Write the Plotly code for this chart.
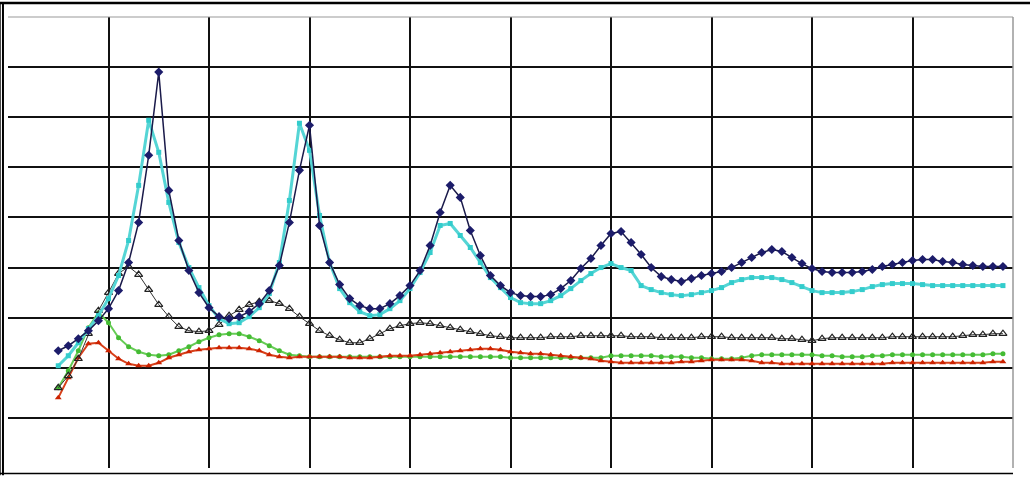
import plotly.graph_objects as go

# sample positions along the horizontal axis (grid columns 0..10)
x = [round(0.5 + 0.1 * i, 1) for i in range(95)]

navy = [2.34, 2.44, 2.58, 2.74, 2.94,
        3.18, 3.54, 4.1, 4.9, 6.24, 7.9, 5.54, 4.54, 3.94, 3.5,
        3.2, 3.02, 2.98, 3.02, 3.12, 3.28, 3.54, 4.04, 4.9, 5.94,
        6.84, 4.84, 4.1, 3.66, 3.38, 3.24, 3.18, 3.18, 3.28, 3.44,
        3.64, 3.94, 4.44, 5.1, 5.64, 5.4, 4.74, 4.24, 3.84, 3.64,
        3.5, 3.44, 3.42, 3.42, 3.46, 3.58, 3.74, 3.98, 4.18, 4.44,
        4.68, 4.72, 4.5, 4.26, 4.0, 3.82, 3.76, 3.72, 3.78, 3.84,
        3.88, 3.92, 4.0, 4.1, 4.2, 4.3, 4.36, 4.32, 4.2, 4.08,
        3.98, 3.92, 3.9, 3.9, 3.9, 3.92, 3.96, 4.02, 4.06, 4.1,
        4.14, 4.16, 4.16, 4.12, 4.1, 4.06, 4.04, 4.02, 4.02, 4.02]

cyan = [2.04, 2.24, 2.5, 2.78, 3.04,
        3.38, 3.84, 4.54, 5.64, 6.94, 6.3, 5.3, 4.5, 4.0, 3.6,
        3.24, 2.98, 2.88, 2.9, 3.02, 3.2, 3.48, 4.1, 5.34, 6.88,
        6.34, 5.04, 4.1, 3.58, 3.3, 3.12, 3.04, 3.06, 3.18, 3.34,
        3.58, 3.9, 4.3, 4.84, 4.88, 4.64, 4.4, 4.1, 3.8, 3.6,
        3.4, 3.3, 3.28, 3.28, 3.34, 3.44, 3.58, 3.74, 3.88, 4.0,
        4.08, 4.0, 3.94, 3.64, 3.56, 3.5, 3.46, 3.44, 3.46, 3.5,
        3.54, 3.6, 3.7, 3.76, 3.8, 3.8, 3.8, 3.76, 3.7, 3.62,
        3.54, 3.5, 3.5, 3.5, 3.52, 3.56, 3.62, 3.66, 3.68, 3.68,
        3.68, 3.66, 3.64, 3.64, 3.64, 3.64, 3.64, 3.64, 3.64, 3.64]

triangles = [1.6, 1.84, 2.18, 2.68, 3.14,
             3.5, 3.88, 4.02, 3.86, 3.56, 3.26, 3.02, 2.82, 2.74, 2.72,
             2.74, 2.86, 3.04, 3.16, 3.26, 3.32, 3.34, 3.28, 3.18, 3.02,
             2.88, 2.74, 2.64, 2.56, 2.5, 2.5, 2.58, 2.68, 2.78, 2.84,
             2.88, 2.9, 2.88, 2.84, 2.8, 2.76, 2.72, 2.68, 2.64, 2.62,
             2.6, 2.6, 2.6, 2.6, 2.62, 2.62, 2.62, 2.64, 2.64, 2.64,
             2.64, 2.64, 2.62, 2.62, 2.62, 2.6, 2.6, 2.6, 2.6, 2.62,
             2.62, 2.62, 2.6, 2.6, 2.6, 2.6, 2.6, 2.58, 2.58, 2.56,
             2.54, 2.58, 2.6, 2.6, 2.6, 2.6, 2.6, 2.6, 2.62, 2.62,
             2.62, 2.62, 2.62, 2.62, 2.62, 2.64, 2.66, 2.66, 2.68, 2.68]

green = [1.6, 1.94, 2.34, 2.8, 3.1,
         2.9, 2.6, 2.42, 2.32, 2.26, 2.24, 2.26, 2.34, 2.42, 2.52,
         2.6, 2.66, 2.68, 2.68, 2.62, 2.54, 2.44, 2.34, 2.26, 2.24,
         2.22, 2.22, 2.22, 2.22, 2.22, 2.22, 2.22, 2.22, 2.22, 2.22,
         2.22, 2.22, 2.22, 2.22, 2.22, 2.22, 2.22, 2.22, 2.22, 2.22,
         2.2, 2.2, 2.2, 2.2, 2.2, 2.2, 2.2, 2.2, 2.2, 2.2,
         2.24, 2.24, 2.24, 2.24, 2.24, 2.22, 2.22, 2.22, 2.2, 2.2,
         2.18, 2.18, 2.18, 2.2, 2.24, 2.26, 2.26, 2.26, 2.26, 2.26,
         2.26, 2.24, 2.24, 2.22, 2.22, 2.22, 2.24, 2.24, 2.26, 2.26,
         2.26, 2.26, 2.26, 2.26, 2.26, 2.26, 2.26, 2.26, 2.28, 2.28]

red = [1.4, 1.8, 2.2, 2.48, 2.5,
       2.34, 2.18, 2.08, 2.04, 2.04, 2.1, 2.2, 2.26, 2.32, 2.36,
       2.38, 2.4, 2.4, 2.4, 2.38, 2.34, 2.26, 2.22, 2.2, 2.22,
       2.22, 2.22, 2.22, 2.22, 2.2, 2.2, 2.2, 2.22, 2.24, 2.24,
       2.24, 2.26, 2.28, 2.3, 2.32, 2.34, 2.36, 2.38, 2.38, 2.36,
       2.32, 2.3, 2.28, 2.28, 2.26, 2.24, 2.22, 2.2, 2.18, 2.14,
       2.12, 2.1, 2.1, 2.1, 2.1, 2.1, 2.1, 2.12, 2.12, 2.14,
       2.16, 2.16, 2.16, 2.16, 2.14, 2.1, 2.1, 2.08, 2.08, 2.08,
       2.08, 2.08, 2.08, 2.08, 2.08, 2.08, 2.08, 2.08, 2.1, 2.1,
       2.1, 2.1, 2.1, 2.1, 2.1, 2.1, 2.1, 2.1, 2.12, 2.12]

fig = go.Figure()

fig.add_trace(go.Scatter(x=x, y=green, mode="lines+markers",
                         line=dict(color="#66cc55", width=2),
                         marker=dict(symbol="circle", size=5, color="#44bb33")))
fig.add_trace(go.Scatter(x=x, y=red, mode="lines+markers",
                         line=dict(color="#d8401a", width=2),
                         marker=dict(symbol="triangle-up", size=6, color="#cc2200")))
fig.add_trace(go.Scatter(x=x, y=triangles, mode="lines+markers",
                         line=dict(color="#333333", width=1),
                         marker=dict(symbol="triangle-up-open", size=7, color="#222222",
                                     line=dict(width=1.2))))
fig.add_trace(go.Scatter(x=x, y=cyan, mode="lines+markers",
                         line=dict(color="#55d5d5", width=3),
                         marker=dict(symbol="square", size=5, color="#33cccc")))
fig.add_trace(go.Scatter(x=x, y=navy, mode="lines+markers",
                         line=dict(color="#1a1a4a", width=1.5),
                         marker=dict(symbol="diamond", size=7, color="#1c1c6a")))

# frame lines (paper coordinates)
frame = [
    dict(x0=-0.008, x1=1.017, y0=1.031, y1=1.031, w=2.5, c="#000000"),
    dict(x0=-0.005, x1=-0.005, y0=-0.016, y1=1.031, w=2, c="#000000"),
    dict(x0=-0.008, x1=-0.008, y0=-0.016, y1=1.031, w=1.5, c="#000000"),
    dict(x0=-0.008, x1=1.0, y0=-0.012, y1=-0.012, w=1.5, c="#000000"),
    dict(x0=0.0, x1=1.0, y0=1.0, y1=1.0, w=1, c="#999999"),
    dict(x0=1.0, x1=1.0, y0=0.0, y1=1.0, w=1.5, c="#999999"),
]
for f in frame:
    fig.add_shape(type="line", xref="paper", yref="paper",
                  x0=f["x0"], x1=f["x1"], y0=f["y0"], y1=f["y1"],
                  line=dict(color=f["c"], width=f["w"]), layer="above")

fig.update_layout(
    width=1030, height=477,
    margin=dict(l=8, r=17, t=17, b=9),
    paper_bgcolor="white", plot_bgcolor="white",
    showlegend=False,
    xaxis=dict(range=[0, 10], dtick=1, tick0=0, showgrid=True, gridcolor="#111111",
               gridwidth=2, showticklabels=False, zeroline=False, showline=False, ticks=""),
    yaxis=dict(range=[0, 9], dtick=1, tick0=0, showgrid=True, gridcolor="#111111",
               gridwidth=2, showticklabels=False, zeroline=False, showline=False, ticks=""),
)

fig.write_html("out.html", config={"displayModeBar": False},
               post_script="document.body.style.margin='0';document.body.style.overflow='hidden';")
